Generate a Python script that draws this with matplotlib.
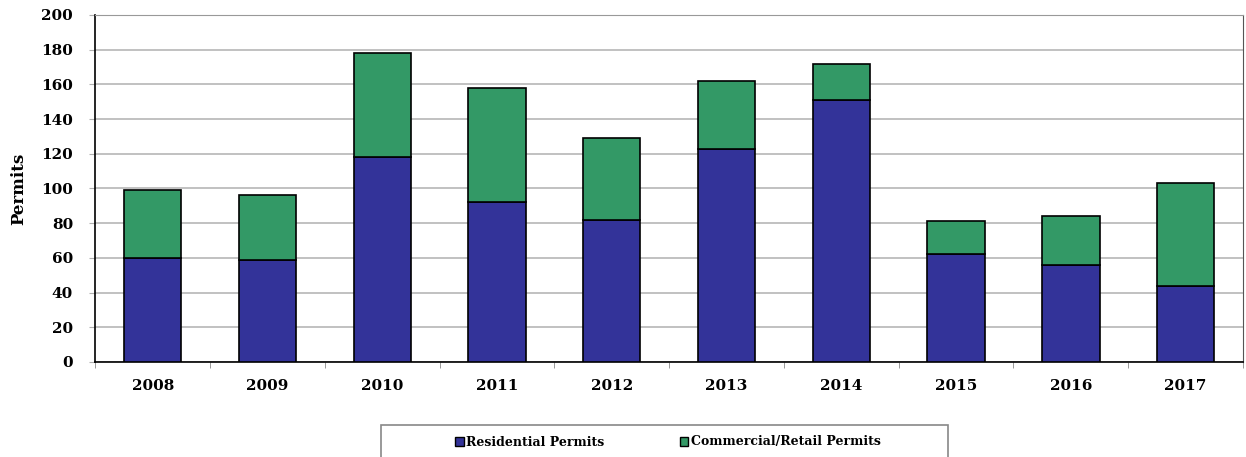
import numpy as np
import matplotlib.pyplot as plt
from matplotlib.patches import Patch, Rectangle

years = ['2008', '2009', '2010', '2011', '2012', '2013', '2014', '2015', '2016', '2017']
residential = [60, 59, 118, 92, 82, 123, 151, 62, 56, 44]
commercial = [39, 37, 60, 66, 47, 39, 21, 19, 28, 59]

plt.rcParams['font.family'] = ['DejaVu Serif']
plt.rcParams['font.weight'] = 'bold'

fig = plt.figure(figsize=(12.46, 4.57), dpi=100)
ax = fig.add_axes([0.0765, 0.2079, 0.9211, 0.7593])

x = np.arange(len(years))
ax.bar(x, residential, width=0.5, color='#333399', edgecolor='black', linewidth=1.2, zorder=3)
ax.bar(x, commercial, width=0.5, bottom=residential, color='#339966', edgecolor='black', linewidth=1.2, zorder=3)

ax.set_xlim(-0.5, len(years) - 0.5)
ax.set_ylim(0, 200)
ax.set_yticks(range(0, 201, 20))
ax.yaxis.grid(True, color='#b0b0b0', linewidth=1.1, zorder=0)
ax.tick_params(axis='y', labelsize=11, length=4, color='#b0b0b0', pad=12)

ax.set_xticks(x)
ax.set_xticklabels(years, fontsize=11, fontweight='bold')
ax.tick_params(axis='x', which='major', length=0, pad=12)
ax.set_xticks(np.arange(-0.5, len(years)), minor=True)
ax.tick_params(axis='x', which='minor', length=4, color='#888888')

for lbl in ax.get_yticklabels():
    lbl.set_fontweight('bold')

ax.spines['left'].set_color('black')
ax.spines['bottom'].set_color('black')
ax.spines['top'].set_color('#999999')
ax.spines['right'].set_color('#555555')
ax.spines['left'].set_linewidth(1.2)
ax.spines['bottom'].set_linewidth(1.2)

ax.set_ylabel('Permits', fontsize=12, fontweight='bold', labelpad=10)

# legend box drawn separately so it keeps the reference width
fig.patches.append(Rectangle((381 / 1246, -0.05), (948 - 381) / 1246, 0.05 + 32 / 457,
                             transform=fig.transFigure, facecolor='white',
                             edgecolor='#888888', linewidth=1.2, zorder=1))
handles = [Patch(facecolor='#333399', edgecolor='black', label='Residential Permits'),
           Patch(facecolor='#339966', edgecolor='black', label='Commercial/Retail Permits')]
leg = fig.legend(handles=handles, loc='center', bbox_to_anchor=(0.536, 15 / 457),
                 ncol=2, fontsize=9, frameon=False, columnspacing=6.0,
                 handlelength=0.7, handleheight=0.7, handletextpad=0.2, borderaxespad=0)
for t in leg.get_texts():
    t.set_fontweight('bold')

fig.savefig('out.png', dpi=100)
